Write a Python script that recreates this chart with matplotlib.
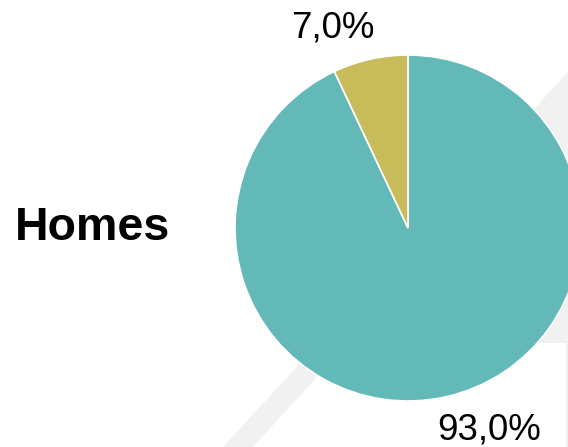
import matplotlib
matplotlib.use("Agg")
import matplotlib.pyplot as plt
from matplotlib.patches import Polygon

# Data
categories = ["Yes", "No"]
values = [93.0, 7.0]
colors = ["#63b8b8", "#c8bb5a"]
title = "Homes"

W, H = 568, 447
fig = plt.figure(figsize=(W / 100, H / 100), dpi=100)
ax = fig.add_axes([0, 0, 1, 1])
ax.set_xlim(0, W)
ax.set_ylim(0, H)
ax.set_aspect("equal")
ax.axis("off")

def py(y):
    return H - y

# faint watermark shapes in background
wm = "#f1f1f1"
band = Polygon([(223, py(447)), (568, py(72)), (568, py(102)), (253, py(447))],
               closed=True, facecolor=wm, edgecolor="none", zorder=0)
ax.add_patch(band)
block = Polygon([(548, py(110)), (568, py(88)), (568, py(343)), (515, py(343))],
                closed=True, facecolor=wm, edgecolor="none", zorder=0)
ax.add_patch(block)
ax.plot([567, 567], [py(343), py(447)], color=wm, lw=1.5, zorder=0)

cx, cy, r = 408, py(228), 173
wedges, _ = ax.pie(values, colors=colors, startangle=90, counterclock=False,
                   center=(cx, cy), radius=r,
                   wedgeprops=dict(edgecolor="white", linewidth=1.2))
for w in wedges:
    w.set_zorder(2)
ax.set_xlim(0, W)
ax.set_ylim(0, H)

labels = [f"{v:.1f}".replace(".", ",") + "%" for v in values]
font = "Liberation Sans"
ax.text(489, py(430), labels[0], fontsize=26.5, family=font, ha="center", va="center", zorder=3)
ax.text(333, py(28), labels[1], fontsize=26.5, family=font, ha="center", va="center", zorder=3)
ax.text(92, py(228), title, fontsize=33.5, family=font, fontweight="bold",
        ha="center", va="center", zorder=3)

fig.savefig("out.png", dpi=100)
